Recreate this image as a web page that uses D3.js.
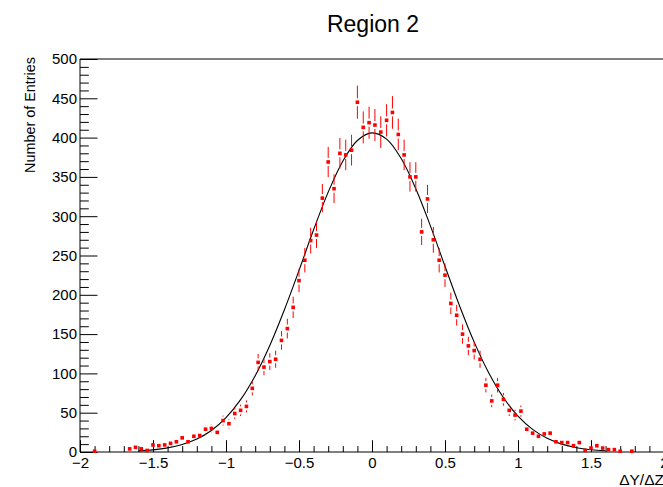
<!DOCTYPE html>
<html>
<head>
<meta charset="utf-8">
<script src="https://cdn.jsdelivr.net/npm/d3@7"></script>
<style>
  body { margin: 0; background: #fff; }
  svg { display: block; }
  text { font-family: "Liberation Sans", Arial, Helvetica, sans-serif; }
</style>
</head>
<body>
<div id="chart"></div>
<script>
// histogram definition: 100 bins between -2 and 2
const xMin = -2, xMax = 2, nBins = 100;

// entries per bin
const counts = [
  0, 0, 1, 0, 0, 0, 0, 0, 4, 6,
  4, 2, 9, 8, 9, 11, 13, 18, 13, 20,
  21, 29, 30, 25, 40, 36, 49, 53, 58, 81,
  114, 108, 115, 118, 142, 157, 184, 218, 244, 269,
  276, 323, 369, 335, 380, 378, 384, 445, 413, 419,
  416, 407, 422, 432, 404, 378, 350, 350, 280, 322,
  270, 244, 225, 189, 174, 150, 135, 129, 118, 85,
  65, 85, 67, 53, 47, 52, 29, 24, 20, 23,
  24, 13, 12, 12, 8, 12, 2, 5, 8, 5,
  3, 3, 1, 0, 1, 0, 0, 0, 0, 0
];

// gaussian fit curve
const fitX = [-1.6, -1.5, -1.4, -1.3, -1.2, -1.1, -1.0, -0.9, -0.8, -0.7, -0.6, -0.5, -0.4, -0.3, -0.2, -0.1,
  0, 0.1, 0.2, 0.3, 0.4, 0.5, 0.6, 0.7, 0.8, 0.9, 1.0, 1.1, 1.2, 1.3, 1.4, 1.5, 1.6];
const fitY = [1.4, 2.7, 5.2, 9.5, 16.5, 27.4, 43.7, 66.6, 97.1, 135.6, 181, 231, 282.7, 330.6, 370, 396.3,
  406, 398, 373.3, 335, 287.7, 236.3, 185.8, 139.8, 100.6, 69.3, 45.6, 28.8, 17.4, 10, 5.5, 2.9, 1.5];

const xMajorTicks = [-2, -1.5, -1, -0.5, 0, 0.5, 1, 1.5, 2];
const yMajorTicks = [0, 50, 100, 150, 200, 250, 300, 350, 400, 450, 500];

const title = "Region 2";
const xTitle = "ΔY/ΔZ";
const yTitle = "Number of Entries";

const width = 663, height = 487;
const frame = { left: 80, right: 664, top: 59, bottom: 452 };

const svg = d3.select("#chart").append("svg")
  .attr("width", width)
  .attr("height", height);

svg.append("rect").attr("width", width).attr("height", height).attr("fill", "#fff");

const x = d3.scaleLinear().domain([xMin, xMax]).range([frame.left, frame.right]);
const y = d3.scaleLinear().domain([0, 500]).range([frame.bottom, frame.top]);

const fmt = d3.format("~g");

// minor ticks
const yMinor = d3.range(0, 501, 10).filter(v => v % 50 !== 0);
svg.append("g")
  .attr("transform", `translate(${frame.left},0)`)
  .call(d3.axisLeft(y).tickValues(yMinor).tickSizeInner(-8.8).tickSizeOuter(0).tickFormat(""))
  .call(g => g.select(".domain").remove());

const xMinor = d3.range(-20, 21).map(v => v / 10).filter(v => Math.abs(v * 2 - Math.round(v * 2)) > 1e-6);
svg.append("g")
  .attr("transform", `translate(0,${frame.bottom})`)
  .call(d3.axisBottom(x).tickValues(xMinor).tickSizeInner(-5.9).tickSizeOuter(0).tickFormat(""))
  .call(g => g.select(".domain").remove());

// major ticks + labels
svg.append("g")
  .attr("transform", `translate(${frame.left},0)`)
  .call(d3.axisLeft(y).tickValues(yMajorTicks).tickSizeInner(-17.5).tickSizeOuter(0).tickPadding(3).tickFormat(fmt))
  .call(g => g.select(".domain").remove())
  .call(g => g.selectAll("text").attr("font-size", 15).attr("fill", "#000")
    .attr("font-family", "Liberation Sans, Arial, sans-serif"));

svg.append("g")
  .attr("transform", `translate(0,${frame.bottom})`)
  .call(d3.axisBottom(x).tickValues(xMajorTicks).tickSizeInner(-11.8).tickSizeOuter(0).tickPadding(5.4).tickFormat(fmt))
  .call(g => g.select(".domain").remove())
  .call(g => g.selectAll("text").attr("font-size", 15).attr("fill", "#000")
    .attr("font-family", "Liberation Sans, Arial, sans-serif"));

// frame
svg.append("path")
  .attr("d", `M${frame.right},${frame.top}H${frame.left}V${frame.bottom}H${frame.right}`)
  .attr("fill", "none")
  .attr("stroke", "#000")
  .attr("stroke-width", 1);

// data points with sqrt(N) errors
const binW = (xMax - xMin) / nBins;
const bins = counts.map((n, i) => ({ c: xMin + binW * (i + 0.5), n: n, e: Math.sqrt(n) }))
  .filter(d => d.n > 0);

const gap = 4, ms = 3.6;
const pts = svg.append("g");

pts.selectAll(".eu").data(bins.filter(d => y(d.n) - y(d.n + d.e) > gap))
  .enter().append("line")
  .attr("x1", d => x(d.c)).attr("x2", d => x(d.c))
  .attr("y1", d => y(d.n + d.e)).attr("y2", d => y(d.n) - gap)
  .attr("stroke", "#ff0000").attr("stroke-width", 1);

pts.selectAll(".ed").data(bins.filter(d => y(Math.max(d.n - d.e, 0)) - y(d.n) > gap))
  .enter().append("line")
  .attr("x1", d => x(d.c)).attr("x2", d => x(d.c))
  .attr("y1", d => y(d.n) + gap).attr("y2", d => y(Math.max(d.n - d.e, 0)))
  .attr("stroke", "#ff0000").attr("stroke-width", 1);

// fit curve
const fitData = fitX.map((v, i) => [v, fitY[i]]);
svg.append("path")
  .datum(fitData)
  .attr("d", d3.line().x(d => x(d[0])).y(d => y(d[1])).curve(d3.curveCatmullRom))
  .attr("fill", "none")
  .attr("stroke", "#000")
  .attr("stroke-width", 1.1);

pts.selectAll("rect").data(bins)
  .enter().append("rect")
  .attr("x", d => x(d.c) - ms / 2)
  .attr("y", d => y(d.n) - ms / 2)
  .attr("width", ms).attr("height", ms)
  .attr("fill", "#ff0000");
pts.raise();

// titles
svg.append("text")
  .attr("x", 373).attr("y", 32)
  .attr("text-anchor", "middle")
  .attr("font-size", 23)
  .text(title);

svg.append("text")
  .attr("x", frame.right).attr("y", 485)
  .attr("text-anchor", "end")
  .attr("font-size", 15.5)
  .text(xTitle);

svg.append("text")
  .attr("transform", `translate(35,${frame.top - 2}) rotate(-90)`)
  .attr("text-anchor", "end")
  .attr("font-size", 14.4)
  .text(yTitle);
</script>
</body>
</html>
